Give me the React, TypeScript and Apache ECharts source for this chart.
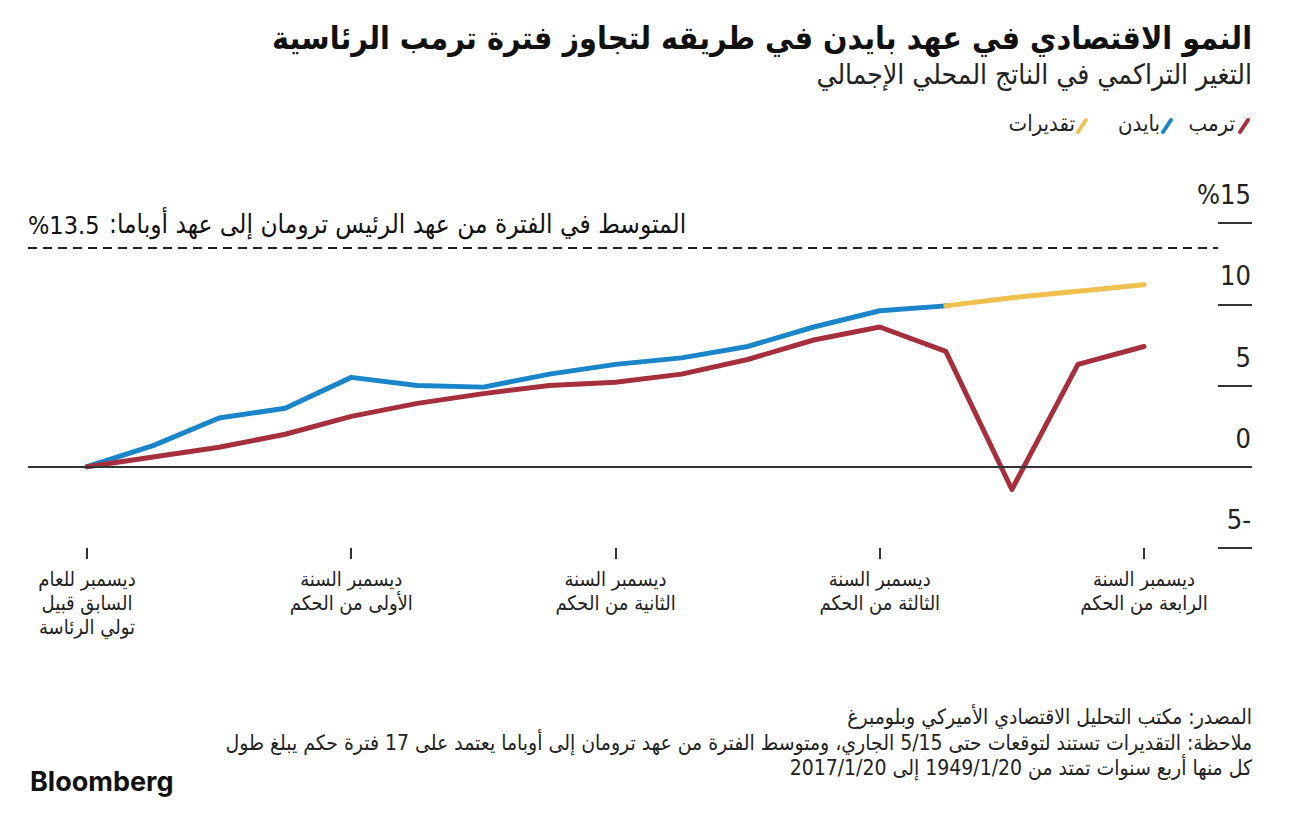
import React, { useEffect, useRef } from "react";
import * as echarts from "echarts";

// ---- data ----
const quarters = [0, 1, 2, 3, 4, 5, 6, 7, 8, 9, 10, 11, 12, 13, 14, 15, 16];
const trump = [0, 0.6, 1.2, 2.0, 3.1, 3.9, 4.5, 5.0, 5.2, 5.7, 6.6, 7.8, 8.6, 7.1, -1.4, 6.3, 7.4];
const biden = [0, 1.3, 3.0, 3.6, 5.5, 5.0, 4.9, 5.7, 6.3, 6.7, 7.4, 8.6, 9.6, 9.9];
const estimateQuarters = [13, 14, 15, 16];
const estimates = [9.9, 10.4, 10.8, 11.2];
const averageGrowth = 13.5;
const yTickValues = [-5, 0, 5, 10, 15];
const yTickLabels = ["5-", "0", "5", "10", "%15"];
const xTickQuarters = [0, 4, 8, 12, 16];
const xTickLabels = [
  "ديسمبر للعام\nالسابق قبيل\nتولي الرئاسة",
  "ديسمبر السنة\nالأولى من الحكم",
  "ديسمبر السنة\nالثانية من الحكم",
  "ديسمبر السنة\nالثالثة من الحكم",
  "ديسمبر السنة\nالرابعة من الحكم",
];
const legendNames = ["ترمب", "بايدن", "تقديرات"];

const RLM = "\u200F";
const title = "النمو الاقتصادي في عهد بايدن في طريقه لتجاوز فترة ترمب الرئاسية";
const subtitle = "التغير التراكمي في الناتج المحلي الإجمالي";
const avgLabel = "المتوسط في الفترة من عهد الرئيس ترومان إلى عهد أوباما:";
const avgValue = "%13.5";
const notes = [
  "المصدر: مكتب التحليل الاقتصادي الأميركي وبلومبرغ",
  "ملاحظة: التقديرات تستند لتوقعات حتى 5/15 الجاري، ومتوسط الفترة من عهد ترومان إلى أوباما يعتمد على 17 فترة حكم يبلغ طول",
  "كل منها أربع سنوات تمتد من 1949/1/20 إلى 2017/1/20",
];

const RED = "#a62f3d";
const BLUE = "#1a85c8";
const YELLOW = "#f0c04e";
const AR = '"DejaVu Sans Condensed", "DejaVu Sans", sans-serif';
const NUM = '"Liberation Sans Narrow", "DejaVu Sans Condensed", sans-serif';

export default function App() {
  const ref = useRef<HTMLDivElement>(null);
  useEffect(() => {
    if (!ref.current) return;
    const chart = echarts.init(ref.current, null, { renderer: "svg" });
    const lineStyle = (c: string) => ({ color: c, width: 5, cap: "round", join: "round" });
    chart.setOption({
      animation: false,
      backgroundColor: "#ffffff",
      grid: { left: 28, right: 78, top: 223, bottom: 280 },
      xAxis: {
        type: "value",
        min: -0.893,
        max: 17.12,
        axisLine: { show: false, onZero: false },
        splitLine: { show: false },
        axisTick: {
          show: true,
          customValues: xTickQuarters,
          length: 11,
          lineStyle: { color: "#333", width: 2 },
        },
        axisLabel: {
          customValues: xTickQuarters,
          formatter: (v: number) => xTickLabels[xTickQuarters.indexOf(v)] ?? "",
          margin: 19,
          fontFamily: AR,
          fontSize: 20,
          lineHeight: 24,
          color: "#222",
          verticalAlign: "top",
        },
      },
      yAxis: {
        type: "value",
        position: "right",
        min: -5,
        max: 15,
        interval: 5,
        axisLine: { show: false, onZero: false },
        splitLine: { show: false },
        axisTick: { show: true, length: 34, lineStyle: { color: "#333", width: 2 } },
        axisLabel: {
          formatter: (v: number) => yTickLabels[yTickValues.indexOf(v)] ?? "",
          align: "right",
          margin: 33,
          verticalAlign: "bottom",
          padding: [0, 0, 15, 0],
          fontFamily: NUM,
          fontSize: 27,
          color: "#222",
        },
      },
      series: [
        {
          type: "line",
          data: [],
          silent: true,
          markLine: {
            silent: true,
            symbol: "none",
            label: { show: false },
            data: [
              { yAxis: 0, lineStyle: { color: "#333", width: 2, type: "solid" } },
              { yAxis: averageGrowth, lineStyle: { color: "#222", width: 2, type: [9, 6] } },
            ],
          },
        },
        {
          name: legendNames[1],
          type: "line",
          data: biden.map((v, i) => [quarters[i], v]),
          showSymbol: false,
          lineStyle: lineStyle(BLUE),
        },
        {
          name: legendNames[2],
          type: "line",
          data: estimates.map((v, i) => [estimateQuarters[i], v]),
          showSymbol: false,
          lineStyle: lineStyle(YELLOW),
        },
        {
          name: legendNames[0],
          type: "line",
          data: trump.map((v, i) => [quarters[i], v]),
          showSymbol: false,
          lineStyle: lineStyle(RED),
        },
      ],
      graphic: [
        { type: "text", right: 44, top: 22, style: { text: RLM + title + RLM, font: `bold 32px ${AR}`, fill: "#111" } },
        { type: "text", right: 44, top: 60, style: { text: RLM + subtitle + RLM, font: `28px ${AR}`, fill: "#222" } },
        { type: "line", shape: { x1: 1240, y1: 132, x2: 1248, y2: 120 }, style: { stroke: RED, lineWidth: 4, lineCap: "round" } },
        { type: "text", right: 61, top: 112, style: { text: legendNames[0], font: `22px ${AR}`, fill: "#222" } },
        { type: "line", shape: { x1: 1163, y1: 132, x2: 1171, y2: 120 }, style: { stroke: BLUE, lineWidth: 4, lineCap: "round" } },
        { type: "text", right: 136, top: 112, style: { text: legendNames[1], font: `22px ${AR}`, fill: "#222" } },
        { type: "line", shape: { x1: 1078, y1: 132, x2: 1086, y2: 120 }, style: { stroke: YELLOW, lineWidth: 4, lineCap: "round" } },
        { type: "text", right: 221, top: 112, style: { text: legendNames[2], font: `22px ${AR}`, fill: "#222" } },
        { type: "text", left: 28, top: 213, style: { text: avgValue, font: `25px ${NUM}`, fill: "#111" } },
        { type: "text", left: 109, top: 211, style: { text: RLM + avgLabel + RLM, font: `26px ${AR}`, fill: "#111" } },
        { type: "text", right: 44, top: 706, style: { text: RLM + notes[0] + RLM, font: `21px ${AR}`, fill: "#222" } },
        { type: "text", right: 44, top: 732, style: { text: RLM + notes[1] + RLM, font: `21px ${AR}`, fill: "#222" } },
        { type: "text", right: 44, top: 757, style: { text: RLM + notes[2] + RLM, font: `21px ${AR}`, fill: "#222" } },
        { type: "text", left: 30, top: 768, style: { text: "Bloomberg", font: `bold 27px Inter, Roboto, sans-serif`, fill: "#111" } },
      ],
    });
    return () => chart.dispose();
  }, []);
  return (
    <div
      ref={ref}
      style={{ position: "fixed", left: 0, top: 0, width: 1296, height: 828, background: "#fff" }}
    />
  );
}
